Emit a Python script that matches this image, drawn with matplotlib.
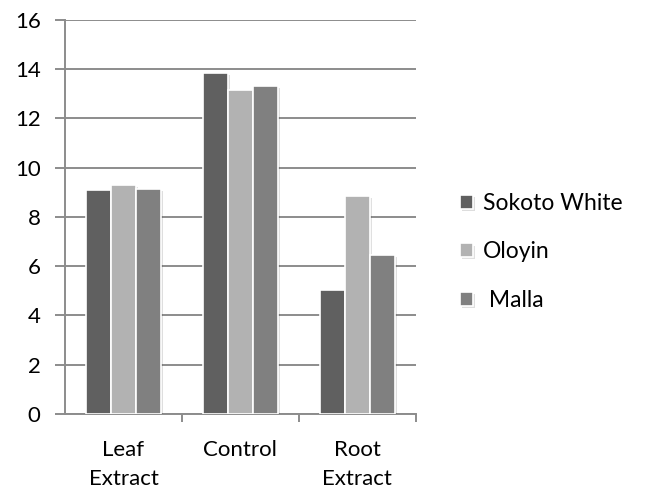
import matplotlib.pyplot as plt
import matplotlib.patheffects as pe
import numpy as np

plt.rcParams['font.family'] = ['Lato', 'DejaVu Sans']

categories = ['Leaf\nExtract', 'Control', 'Root\nExtract']
series = ['Sokoto White', 'Oloyin', ' Malla']
sokoto = [9.1, 13.85, 5.05]
oloyin = [9.3, 13.15, 8.85]
malla = [9.15, 13.3, 6.45]
colors = ['#606060', '#b2b2b2', '#808080']

fig = plt.figure(figsize=(6.46, 4.97), dpi=100)
ax = fig.add_axes([0.1006, 0.167, 0.543, 0.793])

x = np.arange(len(categories))
w = 0.215
for i, (vals, name) in enumerate(zip([sokoto, oloyin, malla], series)):
    bars = ax.bar(x + (i - 1) * w, vals, width=w, color=colors[i],
                  edgecolor='white', linewidth=1.2, label=name, zorder=3)
    for b in bars:
        b.set_path_effects([pe.SimplePatchShadow(offset=(1.5, -1.5), alpha=0.15),
                            pe.Normal()])

ax.set_xlim(-0.5, 2.5)
ax.set_ylim(0, 16)
ax.set_yticks(range(0, 17, 2))
ax.yaxis.grid(True, color='#8c8c8c', linewidth=1.4, zorder=0)
ax.set_axisbelow(True)

for s in ['top', 'right']:
    ax.spines[s].set_visible(False)
for s in ['left', 'bottom']:
    ax.spines[s].set_color('#8c8c8c')
    ax.spines[s].set_linewidth(1.4)

ax.set_xticks(x)
ax.set_xticklabels(categories, fontsize=16, linespacing=1.55)
ax.set_xticks([0.5, 1.5, 2.5], minor=True)
ax.tick_params(axis='x', which='major', length=0, pad=19)
ax.tick_params(axis='x', which='minor', length=6, width=1.4, color='#8c8c8c')
ax.tick_params(axis='y', length=7, width=1.4, color='#8c8c8c', labelsize=16, pad=10.5)

fig.legend(*ax.get_legend_handles_labels(), loc='center left',
           bbox_to_anchor=(0.712, 0.493), bbox_transform=fig.transFigure,
           frameon=False, fontsize=16.5, handlelength=0.55, handleheight=0.55,
           labelspacing=1.2, handletextpad=0.45, borderpad=0, borderaxespad=0)

fig.savefig('out.png', dpi=100)
